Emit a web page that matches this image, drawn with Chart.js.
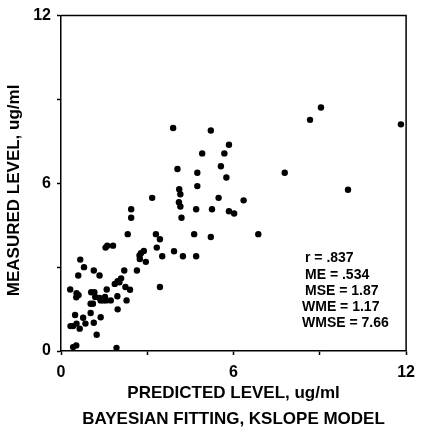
<!DOCTYPE html>
<html>
<head>
<meta charset="utf-8">
<script src="https://cdn.jsdelivr.net/npm/chart.js@4.4.0/dist/chart.umd.min.js"></script>
<style>
  body { margin: 0; background: #fff; }
  #wrap { width: 423px; height: 432px; }
</style>
</head>
<body>
<div id="wrap"><canvas id="scatterChart" width="423" height="432"></canvas></div>
<script>
// DATA
const predicted = [
  3.90, 5.21, 8.66, 9.04, 11.82, 5.84, 4.91, 5.68, 5.56, 4.05,
  4.74, 7.78, 5.75, 4.11, 4.74, 4.15, 9.98, 3.17, 5.48, 6.35,
  4.10, 4.15, 4.70, 5.25, 5.84, 6.02, 2.44, 2.44, 4.19, 2.32,
  3.30, 4.63, 6.86, 5.21, 3.44, 1.55, 1.61, 1.81, 3.33, 2.88,
  2.78, 3.93, 2.73, 3.52, 4.24, 4.70, 2.74, 2.95, 0.67, 0.80,
  1.14, 2.20, 2.64, 0.60, 1.34, 2.09, 1.97, 1.87, 2.03, 0.32,
  2.24, 3.44, 2.40, 0.54, 0.61, 1.05, 1.16, 1.59, 0.53, 1.19,
  1.34, 1.53, 1.03, 1.11, 1.38, 1.47, 1.57, 1.73, 1.96, 2.28,
  1.97, 1.03, 0.49, 0.77, 1.38, 0.33, 0.42, 0.54, 0.85, 1.14,
  0.65, 1.24, 0.42, 0.53, 1.93
];
const measured = [
  7.98, 7.89, 8.27, 8.71, 8.11, 7.38, 7.07, 7.07, 6.61, 6.51,
  6.38, 6.38, 6.21, 5.79, 5.90, 5.61, 5.77, 5.48, 5.48, 5.39,
  5.32, 5.17, 5.07, 5.07, 5.00, 4.92, 5.07, 4.77, 4.77, 4.18,
  4.18, 4.18, 4.18, 4.08, 4.00, 3.70, 3.77, 3.77, 3.70, 3.58,
  3.50, 3.57, 3.42, 3.39, 3.39, 3.39, 3.29, 3.19, 3.27, 3.00,
  2.88, 2.88, 2.88, 2.70, 2.70, 2.60, 2.50, 2.40, 2.46, 2.20,
  2.29, 2.29, 2.19, 2.07, 2.00, 2.10, 2.10, 2.20, 1.92, 1.93,
  1.90, 1.93, 1.69, 1.69, 1.81, 1.81, 1.81, 1.81, 1.96, 1.81,
  1.49, 1.36, 1.29, 1.19, 1.21, 0.89, 0.89, 0.98, 0.98, 1.01,
  0.80, 0.58, 0.14, 0.20, 0.11
];
const xTitle = 'PREDICTED LEVEL, ug/ml';
const yTitle = 'MEASURED LEVEL, ug/ml   ';
const bottomTitle = 'BAYESIAN FITTING, KSLOPE MODEL';
const statsLines = ['r = .837', 'ME = .534', 'MSE = 1.87', 'WME = 1.17', 'WMSE = 7.66'];
const axisMin = 0;
const axisMax = 12;
const tickStep = 3;
const labelledTicks = [0, 6, 12];

const FONT = '"Liberation Sans", Arial, Helvetica, sans-serif';

const points = predicted.map((p, i) => ({ x: p, y: measured[i] }));

// frame + stats text
const framePlugin = {
  id: 'frame',
  afterDraw(chart) {
    const { ctx, chartArea } = chart;
    ctx.save();
    ctx.strokeStyle = '#000';
    ctx.lineWidth = 1.5;
    ctx.beginPath();
    ctx.moveTo(chartArea.left, chartArea.top);
    ctx.lineTo(chartArea.right, chartArea.top);
    ctx.lineTo(chartArea.right, chartArea.bottom);
    ctx.stroke();

    ctx.fillStyle = '#000';
    ctx.font = 'bold 14px ' + FONT;
    ctx.textBaseline = 'middle';
    ctx.textAlign = 'left';
    const offsets = [3, 3, 3, 0, 0];
    statsLines.forEach((line, i) => {
      ctx.fillText(line, chartArea.left + 241 + offsets[i], chartArea.top + 243 + i * 16.2);
    });
    ctx.restore();
  }
};

const axisCommon = {
  type: 'linear',
  min: axisMin,
  max: axisMax,
  ticks: {
    stepSize: tickStep,
    color: '#000',
    font: { family: FONT, size: 16, weight: 'bold' },
    maxRotation: 0,
    callback: v => labelledTicks.includes(v) ? String(v) : ''
  },
  grid: {
    drawOnChartArea: false,
    tickLength: 4,
    tickColor: '#000',
    tickWidth: 1.5
  },
  border: { color: '#000', width: 1.5 }
};

const config = {
  type: 'scatter',
  data: {
    datasets: [{
      data: points,
      backgroundColor: '#000',
      borderColor: '#000',
      pointRadius: 3.2,
      pointHoverRadius: 3.2,
      borderWidth: 0
    }]
  },
  options: {
    responsive: false,
    animation: false,
    layout: { padding: { left: 0, right: 9, top: 15, bottom: 0 } },
    plugins: {
      legend: { display: false },
      tooltip: { enabled: false },
      title: {
        display: true,
        position: 'bottom',
        fullSize: false,
        text: bottomTitle,
        color: '#000',
        font: { family: FONT, size: 17, weight: 'bold' },
        padding: { top: 6, bottom: 2.3 }
      }
    },
    scales: {
      x: Object.assign({}, axisCommon, {
        ticks: Object.assign({}, axisCommon.ticks, { padding: 8 }),
        title: {
          display: true,
          text: xTitle,
          color: '#000',
          font: { family: FONT, size: 17, weight: 'bold' },
          padding: { top: 0, bottom: 0 }
        },
        afterFit: s => { s.height = 52.3; }
      }),
      y: Object.assign({}, axisCommon, {
        ticks: Object.assign({}, axisCommon.ticks, { padding: 6 }),
        title: {
          display: true,
          text: yTitle,
          color: '#000',
          font: { family: FONT, size: 17, weight: 'bold' },
          padding: { top: 4, bottom: 0 }
        },
        afterFit: s => { s.width = 61; }
      })
    }
  },
  plugins: [framePlugin]
};

const myScatter = new Chart(document.getElementById('scatterChart'), config);
</script>
</body>
</html>
